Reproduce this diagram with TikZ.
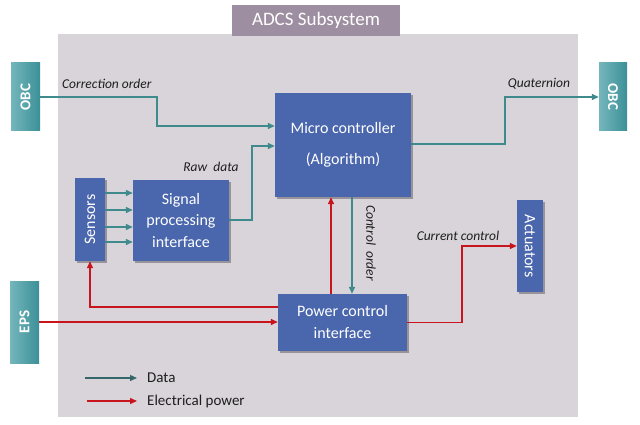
\documentclass[tikz,border=0pt]{standalone}
\usepackage{fontspec}
\usepackage{graphicx}
\setmainfont{Carlito}
\usetikzlibrary{arrows.meta,shadows}
\definecolor{panelc}{HTML}{D9D4DA}
\definecolor{titlec}{HTML}{9D8FA1}
\definecolor{blkc}{HTML}{4A66AD}
\definecolor{tealA}{HTML}{74B6BB}
\definecolor{tealB}{HTML}{3C9098}
\definecolor{datc}{HTML}{3E8A8D}
\definecolor{legdatc}{HTML}{35676A}
\definecolor{pwrc}{HTML}{C8141C}
\definecolor{labc}{HTML}{1E1E1E}
\begin{document}
\begin{tikzpicture}[x=1pt,y=-1pt,
  blkbox/.style={fill=blkc, text=white, inner sep=0pt, align=center,
    drop shadow={shadow xshift=2pt, shadow yshift=-2pt, opacity=0.3, fill=black}},
  extbox/.style={left color=tealA, right color=tealB, text=white, inner sep=0pt,
    font=\bfseries\fontsize{15}{15}\selectfont},
  datline/.style={draw=datc, line width=1.3pt, -{Triangle[length=7pt,width=6pt]}},
  pwrline/.style={draw=pwrc, line width=1.3pt, -{Triangle[length=7pt,width=6pt]}},
  lab/.style={text=labc, font=\itshape\fontsize{13.5}{13.5}\selectfont, inner sep=0pt},
  boxfont/.style={font=\fontsize{16}{#1}\selectfont},
]
\useasboundingbox (0,0) rectangle (640,425);
% panel and title
\node[fill=panelc, minimum width=520pt, minimum height=383pt, inner sep=0pt] (panel) at (318,225.5) {};
\node[fill=titlec, text=white, minimum width=168pt, minimum height=31pt, inner sep=0pt,
  font=\fontsize{19}{19}\selectfont] (title) at (316,20.5) {ADCS Subsystem};
% external boxes
\node[extbox, minimum width=29pt, minimum height=68pt] (obcL) at (25.5,97) {\rotatebox{90}{OBC}};
\node[extbox, minimum width=28pt, minimum height=68pt] (obcR) at (613,97) {\rotatebox{-90}{OBC}};
\node[extbox, minimum width=29pt, minimum height=82pt] (eps) at (24.5,322) {\rotatebox{90}{EPS}};
% internal blocks
\node[blkbox, boxfont=31, minimum width=136pt, minimum height=104pt] (micro) at (343,145)
  {Micro controller\\(Algorithm)};
\node[blkbox, boxfont=16, minimum width=30pt, minimum height=83pt] (sens) at (90,219.5)
  {\rotatebox{90}{Sensors}};
\node[blkbox, boxfont=21.5, minimum width=96pt, minimum height=81pt] (spi) at (181,220.5)
  {Signal\\processing\\interface};
\node[blkbox, boxfont=16, minimum width=26pt, minimum height=92pt] (act) at (530,246)
  {\rotatebox{-90}{Actuators}};
\node[blkbox, boxfont=22, minimum width=129pt, minimum height=57pt] (pci) at (342.5,322.5)
  {Power control\\interface};
% data connectors
\draw[datline] (obcL.east) -- (157,97) |- (micro.west |- 0,126);
\draw[datline] (micro.east |- 0,144) -- (505,144) |- (obcR.west);
\foreach \yy in {193,210,227,242}{
  \draw[datline] (sens.east |- 0,\yy) -- (spi.west |- 0,\yy);
}
\draw[datline] (spi.east |- 0,220) -- (252,220) |- (micro.west |- 0,146);
\draw[datline] (micro.south -| 352,0) -- (pci.north -| 352,0);
% power connectors
\draw[pwrline] (eps.east) -- (pci.west |- eps.east);
\draw[pwrline] (pci.west |- 0,307) -| (sens.south);
\draw[pwrline] (pci.north -| 331,0) -- (micro.south -| 331,0);
\draw[pwrline] (pci.east) -- (462,322.5) |- (act.west);
% labels
\node[lab, anchor=west] (lcorr) at (62,84) {Correction order};
\node[lab] (lquat) at (539,84) {Quaternion};
\node[lab] (lraw) at (211,167) {Raw\ \ data};
\node[lab, rotate=-90] (lctrl) at (371,243) {Control\ \ order};
\node[lab] (lcur) at (458,236) {Current control};
% legend
\coordinate (ld1) at (85,378);
\coordinate (ld2) at (137,378);
\coordinate (lp1) at (87,401);
\coordinate (lp2) at (137,401);
\draw[datline, draw=legdatc] (ld1) -- (ld2);
\draw[pwrline] (lp1) -- (lp2);
\node[anchor=west, inner sep=0pt, text=labc, font=\fontsize{15}{15}\selectfont] (tdat) at (147,378) {Data};
\node[anchor=west, inner sep=0pt, text=labc, font=\fontsize{15}{15}\selectfont] (tpwr) at (147,401) {Electrical power};
\end{tikzpicture}
\end{document}
